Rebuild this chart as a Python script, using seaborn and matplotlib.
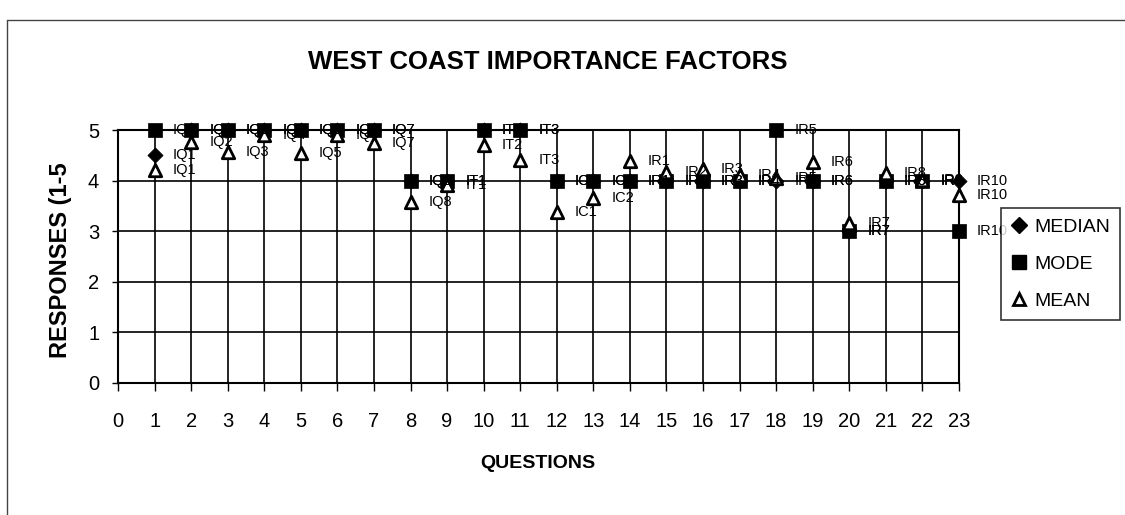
import matplotlib
matplotlib.use("Agg")
import matplotlib.pyplot as plt
import seaborn as sns
import pandas as pd
from matplotlib.lines import Line2D

# question number, code label and the three statistics
questions = list(range(1, 24))
codes = ["IQ1", "IQ2", "IQ3", "IQ4", "IQ5", "IQ6", "IQ7", "IQ8",
         "IT1", "IT2", "IT3", "IC1", "IC2",
         "IR1", "IR2", "IR3", "IR4", "IR5", "IR6", "IR7", "IR8", "IR9", "IR10"]
median = [4.5, 5, 5, 5, 5, 5, 5, 4, 4, 5, 5, 4, 4, 4, 4, 4, 4, 4, 4, 3, 4, 4, 4]
mode = [5, 5, 5, 5, 5, 5, 5, 4, 4, 5, 5, 4, 4, 4, 4, 4, 4, 5, 4, 3, 4, 4, 3]
mean = [4.2, 4.77, 4.57, 4.9, 4.55, 4.9, 4.75, 3.57, 3.92, 4.7, 4.4, 3.38, 3.66,
        4.38, 4.17, 4.22, 4.12, 4.05, 4.37, 3.17, 4.15, 4.02, 3.72]

series = [
    ("MEDIAN", median, "D", 60, "black"),
    ("MODE", mode, "s", 95, "black"),
    ("MEAN", mean, "^", 80, "white"),
]

sns.set_theme(style="white")
plt.rcParams["font.family"] = ["Liberation Sans", "DejaVu Sans"]
plt.rcParams["text.color"] = "black"
plt.rcParams["xtick.color"] = "black"
plt.rcParams["ytick.color"] = "black"

fig = plt.figure(figsize=(11.25, 5.15), dpi=100)
ax = fig.add_axes([118 / 1125, 1 - 383 / 515, (959 - 118) / 1125, (383 - 130) / 515])

for i, (name, vals, mk, sz, fc) in enumerate(series):
    df = pd.DataFrame({"q": questions, "v": vals})
    sns.scatterplot(data=df, x="q", y="v", marker=mk, s=sz, color=fc,
                    edgecolor="black", linewidth=2.0 if mk == "^" else 0.5,
                    ax=ax, zorder=3 + i, legend=False, clip_on=False)

# data labels (category code to the right of each marker)
for name, vals, mk, sz, fc in series:
    for q, v, c in zip(questions, vals, codes):
        ax.annotate(c, (q, v), xytext=(13, 0), textcoords="offset points",
                    ha="left", va="center", fontsize=10.5, color="black",
                    zorder=10, annotation_clip=False)

ax.set_xlim(0, 23)
ax.set_ylim(0, 5)
ax.set_xticks(range(0, 24))
ax.set_yticks(range(0, 6))
ax.grid(True, color="black", linewidth=1.2)
ax.set_axisbelow(True)
for sp in ax.spines.values():
    sp.set_color("black")
    sp.set_linewidth(1.5)
    sp.set_visible(True)
ax.tick_params(axis="x", direction="out", length=6, width=1, pad=15,
               labelsize=14.5, bottom=True, colors="black")
ax.tick_params(axis="y", direction="out", length=4.5, width=1, pad=9,
               labelsize=14.5, left=True, colors="black")
ax.set_xlabel("")
ax.set_ylabel("")

fig.text(548 / 1125, 1 - 62 / 515, "WEST COAST IMPORTANCE FACTORS",
         ha="center", va="center", fontsize=18.5, fontweight="bold", color="black")
fig.text(538 / 1125, 1 - 464 / 515, "QUESTIONS", ha="center", va="center",
         fontsize=14, fontweight="bold", color="black")
fig.text(61 / 1125, 1 - 260 / 515, "RESPONSES (1-5", ha="center", va="center",
         rotation=90, fontsize=17, fontweight="bold", color="black")

handles = [
    Line2D([], [], linestyle="", marker="D", markersize=8, markerfacecolor="black",
           markeredgecolor="black"),
    Line2D([], [], linestyle="", marker="s", markersize=10, markerfacecolor="black",
           markeredgecolor="black"),
    Line2D([], [], linestyle="", marker="^", markersize=9, markerfacecolor="white",
           markeredgecolor="black", markeredgewidth=2),
]
leg = fig.legend(handles, ["MEDIAN", "MODE", "MEAN"], loc="center left",
                 bbox_to_anchor=(1001 / 1125, 1 - 264 / 515), frameon=True,
                 fancybox=False, fontsize=14, handlelength=0.8,
                 handletextpad=0.4, labelspacing=1.0, borderpad=0.5,
                 borderaxespad=0)
leg.get_frame().set_edgecolor("black")
leg.get_frame().set_linewidth(1.2)
for t in leg.get_texts():
    t.set_color("black")

# outer chart frame (top and left edges visible in the scan)
fig.add_artist(Line2D([7 / 1125, 7 / 1125], [0, 1 - 20 / 515], color="#444444",
                      linewidth=1, transform=fig.transFigure))
fig.add_artist(Line2D([7 / 1125, 1], [1 - 20 / 515, 1 - 20 / 515], color="#444444",
                      linewidth=1, transform=fig.transFigure))

fig.savefig("out.png", dpi=100)
